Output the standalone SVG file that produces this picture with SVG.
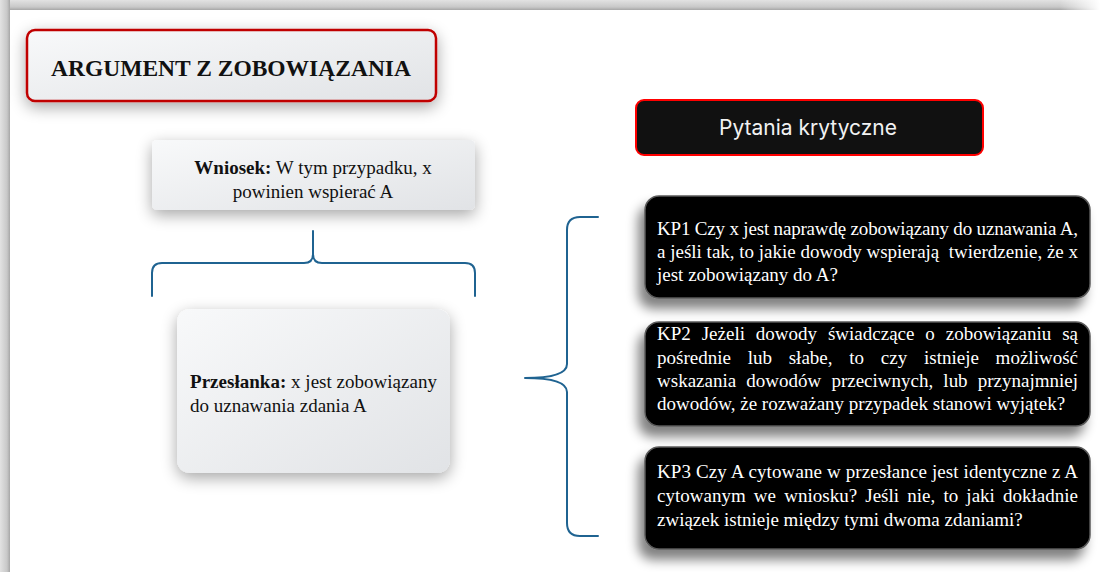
<svg xmlns="http://www.w3.org/2000/svg" width="1100" height="572" viewBox="0 0 1100 572">
  <defs>
    <linearGradient id="light" x1="0" y1="0" x2="1" y2="1">
      <stop offset="0" stop-color="#f8f9fa"/>
      <stop offset="1" stop-color="#e1e3e6"/>
    </linearGradient>
    <linearGradient id="topband" x1="0" y1="0" x2="0" y2="1">
      <stop offset="0" stop-color="#e2e2e2"/>
      <stop offset="0.7" stop-color="#c8c8c8"/>
      <stop offset="1" stop-color="#a6a6a6"/>
    </linearGradient>
    <linearGradient id="leftband" x1="0" y1="0" x2="1" y2="0">
      <stop offset="0" stop-color="#e2e2e2"/>
      <stop offset="0.7" stop-color="#c8c8c8"/>
      <stop offset="1" stop-color="#a6a6a6"/>
    </linearGradient>
    <linearGradient id="fadeR" x1="0" y1="0" x2="1" y2="0">
      <stop offset="0" stop-color="#ffffff" stop-opacity="0"/>
      <stop offset="1" stop-color="#ffffff" stop-opacity="1"/>
    </linearGradient>
    <filter id="softShadow" x="-20%" y="-30%" width="140%" height="170%">
      <feGaussianBlur in="SourceAlpha" stdDeviation="8"/>
      <feOffset dx="0" dy="5" result="b"/>
      <feComponentTransfer><feFuncA type="linear" slope="0.35"/></feComponentTransfer>
      <feMerge><feMergeNode/><feMergeNode in="SourceGraphic"/></feMerge>
    </filter>
    <filter id="darkShadow" x="-20%" y="-30%" width="140%" height="170%">
      <feGaussianBlur in="SourceAlpha" stdDeviation="6"/>
      <feOffset dx="-6" dy="10" result="b"/>
      <feComponentTransfer><feFuncA type="linear" slope="0.5"/></feComponentTransfer>
      <feMerge><feMergeNode/><feMergeNode in="SourceGraphic"/></feMerge>
    </filter>
  </defs>
  <style>
    .serif { font-family: "Liberation Serif", "Times New Roman", serif; }
    .light { fill: url(#light); filter: url(#softShadow); }
    .kp { fill: #000000; stroke: #5a5a5a; stroke-width: 1.5; filter: url(#darkShadow); }
    .kptext { font-family: "Liberation Serif", "Times New Roman", serif; font-size: 19px; fill: #ffffff; }
    .body { font-size: 19px; fill: #111111; }
    .brace { fill: none; stroke: #1f6391; stroke-width: 2; stroke-linecap: round; stroke-linejoin: round; }
  </style>

  <!-- frame -->
  <rect x="0" y="0" width="1100" height="572" fill="#ffffff"/>
  <rect x="0" y="0" width="1100" height="10" fill="url(#topband)"/>
  <rect x="0" y="0" width="10" height="572" fill="url(#leftband)"/>
  <rect x="1060" y="0" width="40" height="10" fill="url(#fadeR)"/>

  <g id="title">
    <rect x="27" y="30" width="409" height="71" rx="8" class="light" stroke="#c00000" stroke-width="2.5"/>
    <text x="231" y="76" text-anchor="middle" class="serif" font-size="23.5" font-weight="bold" fill="#111">ARGUMENT Z ZOBOWIĄZANIA</text>
  </g>

  <g id="pytania">
    <rect x="636" y="100" width="347" height="55" rx="8" fill="#111111" stroke="#ff0000" stroke-width="2"/>
    <text x="808" y="135" text-anchor="middle" font-family="Inter, 'Open Sans', sans-serif" font-size="21" fill="#f2f2f2">Pytania krytyczne</text>
  </g>

  <g id="wniosek">
    <rect x="152" y="140" width="323" height="70" rx="5" class="light"/>
    <text x="313" y="174" text-anchor="middle" class="serif body" font-size="18.5"><tspan font-weight="bold">Wniosek:</tspan> W tym przypadku, x</text>
    <text x="313" y="198" text-anchor="middle" class="serif body" font-size="18.5">powinien wspierać A</text>
  </g>

  <g id="przeslanka">
    <rect x="177" y="309" width="273" height="164" rx="13" class="light"/>
    <text x="190" y="388" class="serif body" textLength="247" lengthAdjust="spacing"><tspan font-weight="bold">Przesłanka:</tspan> x jest zobowiązany</text>
    <text x="190" y="412" class="serif body">do uznawania zdania A</text>
  </g>

  <g id="kp1">
    <rect x="645" y="196" width="445" height="102" rx="14" class="kp"/>
    <text x="657" y="235" class="kptext" textLength="421" lengthAdjust="spacing">KP1 Czy x jest naprawdę zobowiązany do uznawania A,</text>
    <text x="657" y="258" class="kptext" textLength="421" lengthAdjust="spacing" xml:space="preserve">a jeśli tak, to jakie dowody wspierają  twierdzenie, że x</text>
    <text x="657" y="281" class="kptext">jest zobowiązany do A?</text>
  </g>

  <g id="kp2">
    <rect x="645" y="322" width="445" height="104" rx="14" class="kp"/>
    <text x="657" y="340" class="kptext" style="word-spacing:6.1px" textLength="421" lengthAdjust="spacing">KP2 Jeżeli dowody świadczące o zobowiązaniu są</text>
    <text x="657" y="364" class="kptext" style="word-spacing:12px" textLength="421" lengthAdjust="spacing">pośrednie lub słabe, to czy istnieje możliwość</text>
    <text x="657" y="387" class="kptext" style="word-spacing:5.4px" textLength="421" lengthAdjust="spacing">wskazania dowodów przeciwnych, lub przynajmniej</text>
    <text x="657" y="410" class="kptext">dowodów, że rozważany przypadek stanowi wyjątek?</text>
  </g>

  <g id="kp3">
    <rect x="645" y="447" width="445" height="102" rx="14" class="kp"/>
    <text x="657" y="478" class="kptext" textLength="421" lengthAdjust="spacing">KP3 Czy A cytowane w przesłance jest identyczne z A</text>
    <text x="657" y="502" class="kptext" style="word-spacing:3.4px" textLength="421" lengthAdjust="spacing">cytowanym we wniosku? Jeśli nie, to jaki dokładnie</text>
    <text x="657" y="526" class="kptext">związek istnieje między tymi dwoma zdaniami?</text>
  </g>

  <g id="connectors">
    <path class="brace" d="M152,296 L152,273 Q152,263 162,263 L304,263 Q313,263 313,254 L313,231 M313,254 Q313,263 322,263 L465,263 Q475,263 475,273 L475,296"/>
    <path class="brace" d="M598,217 L580,217 Q567,217 567,230 L567,364 Q567,378 525,378 Q567,378 567,392 L567,523 Q567,536 580,536 L598,536"/>
  </g>
</svg>
